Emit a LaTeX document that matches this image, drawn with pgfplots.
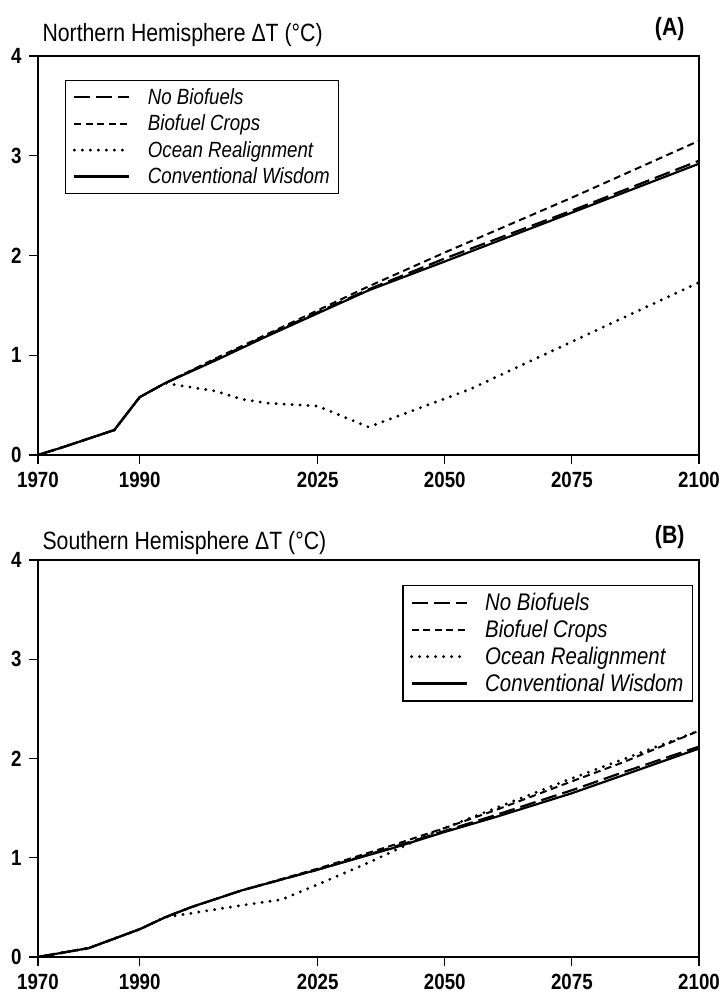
\documentclass[border=0pt]{standalone}
\usepackage{pgfplots}
\pgfplotsset{compat=1.18}
\usepackage{fontspec}
\setmainfont{Liberation Sans}[FakeStretch=0.85]

\pgfplotsset{
  panel/.style={
    scale only axis, width=661pt, height=399pt,
    xmin=1970, xmax=2100, ymin=0, ymax=4,
    xtick={1970,1990,2025,2050,2075,2100}, ytick={0,1,2,3,4},
    tick align=outside, xtick pos=bottom, ytick pos=left,
    major tick length=9pt,
    tick style={line width=1.2pt, black},
    axis line style={line width=1.5pt},
    /pgf/number format/assume math mode=true,
    /pgf/number format/1000 sep={},
    ticklabel style={font=\fontsize{22}{25}\selectfont\bfseries},
    x tick label style={yshift=-5pt},
    y tick label style={xshift=-4pt},
    clip=false,
    legend cell align=left,
    legend style={draw=black, line width=1.2pt, inner xsep=7pt, inner ysep=6pt,
      font=\fontsize{22}{27}\selectfont\itshape, row sep=5pt,
      nodes={inner sep=2pt}},
    legend image code/.code={\draw[##1] (0pt,0pt) -- (55pt,0pt); \path (70pt,0pt);},
  },
  nobio/.style={black, line width=2.2pt, dash pattern=on 16pt off 6pt},
  crops/.style={black, line width=2pt, dash pattern=on 7pt off 4.5pt},
  ocean/.style={black, line width=3.2pt, line cap=round, dash pattern=on 0pt off 8pt},
  conv/.style={black, line width=2.2pt},
}

\begin{document}
\begin{tikzpicture}
\path[use as bounding box] (0pt,0pt) rectangle (723pt,999pt);

% (A) Northern Hemisphere
\begin{axis}[panel, at={(38pt,544pt)}, anchor=south west,
  legend style={at={(rel axis cs:0.041,0.94)}, anchor=north west}]
\addplot[nobio] coordinates {(1970,0) (1975,0.08) (1985,0.25) (1990,0.58) (1995,0.72) (2005,0.96) (2015,1.2) (2025,1.43) (2035,1.66) (2050,1.97) (2075,2.45) (2100,2.95)};
\addlegendentry{No Biofuels}
\addplot[crops] coordinates {(1970,0) (1975,0.08) (1985,0.25) (1990,0.58) (1995,0.72) (2005,0.97) (2015,1.21) (2025,1.45) (2035,1.69) (2050,2.03) (2075,2.58) (2100,3.15)};
\addlegendentry{Biofuel Crops}
\addplot[ocean] coordinates {(1970,0) (1975,0.08) (1985,0.25) (1990,0.58) (1995,0.72) (2005,0.64) (2010,0.56) (2015,0.52) (2025,0.49) (2035,0.28) (2055,0.66) (2100,1.73)};
\addlegendentry{Ocean Realignment}
\addplot[conv] coordinates {(1970,0) (1975,0.08) (1985,0.25) (1990,0.58) (1995,0.72) (2005,0.95) (2015,1.19) (2025,1.42) (2035,1.65) (2050,1.94) (2075,2.43) (2100,2.92)};
\addlegendentry{Conventional Wisdom}
\node[anchor=base west, font=\fontsize{25}{28}\selectfont] at ([xshift=1pt,yshift=14pt]rel axis cs:0,1) {Northern Hemisphere ΔT (°C)};
\node[anchor=base east, font=\fontsize{25}{28}\selectfont\bfseries] at ([xshift=-11pt,yshift=20pt]rel axis cs:1,1) {(A)};
\end{axis}

% (B) Southern Hemisphere
\begin{axis}[panel, at={(38pt,42pt)}, anchor=south west, height=397pt,
  legend style={at={(rel axis cs:0.991,0.9375)}, anchor=north east,
    font=\fontsize{24}{28}\selectfont\itshape, row sep=4pt}]
\addplot[nobio] coordinates {(1970,0) (1980,0.09) (1990,0.28) (1995,0.4) (2000,0.5) (2010,0.67) (2025,0.88) (2040,1.11) (2050,1.27) (2060,1.43) (2075,1.68) (2085,1.86) (2100,2.12)};
\addlegendentry{No Biofuels}
\addplot[crops] coordinates {(1970,0) (1980,0.09) (1990,0.28) (1995,0.4) (2000,0.5) (2010,0.67) (2025,0.89) (2040,1.13) (2050,1.3) (2060,1.48) (2075,1.77) (2085,1.96) (2100,2.28)};
\addlegendentry{Biofuel Crops}
\addplot[ocean] coordinates {(1970,0) (1980,0.09) (1990,0.28) (1995,0.4) (2000,0.44) (2010,0.52) (2018,0.58) (2025,0.73) (2035,0.95) (2045,1.19) (2050,1.3) (2060,1.5) (2075,1.8) (2085,1.99) (2100,2.28)};
\addlegendentry{Ocean Realignment}
\addplot[conv] coordinates {(1970,0) (1980,0.09) (1990,0.28) (1995,0.4) (2000,0.5) (2010,0.67) (2025,0.88) (2040,1.1) (2050,1.26) (2060,1.41) (2075,1.65) (2085,1.83) (2100,2.1)};
\addlegendentry{Conventional Wisdom}
\node[anchor=base west, font=\fontsize{25}{28}\selectfont] at ([xshift=1pt,yshift=10pt]rel axis cs:0,1) {Southern Hemisphere ΔT (°C)};
\node[anchor=base east, font=\fontsize{25}{28}\selectfont\bfseries] at ([xshift=-11pt,yshift=16pt]rel axis cs:1,1) {(B)};
\end{axis}
\end{tikzpicture}
\end{document}
